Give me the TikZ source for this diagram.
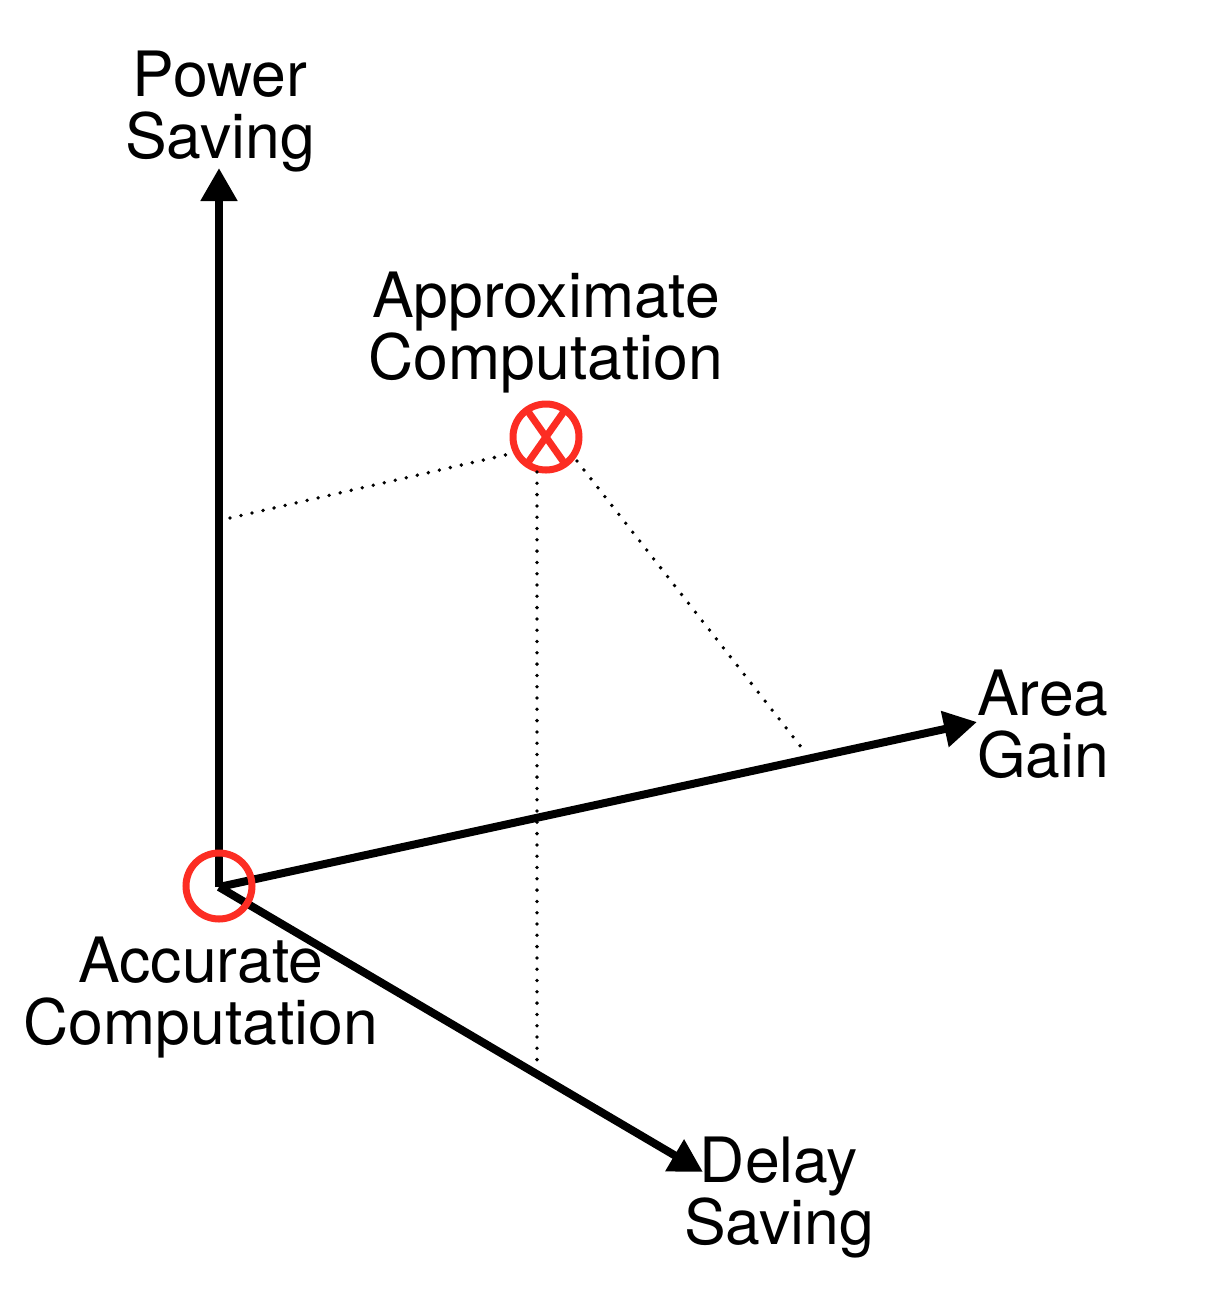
\documentclass[tikz,border=0pt]{standalone}
\usepackage{fontspec}
\setmainfont{TeX Gyre Heros}
\usetikzlibrary{arrows.meta,calc}
\definecolor{mkred}{RGB}{252,45,35}
\begin{document}
\begin{tikzpicture}[x=1pt,y=-1pt,
  axis/.style={line width=8pt,-{Triangle[length=33pt,width=35pt]}},
  guide/.style={line width=3.8pt,line cap=round,dash pattern=on 0pt off 11.3pt},
  marker/.style={circle,draw=mkred,line width=7pt,minimum size=66pt,inner sep=0pt},
  lbl/.style={font=\fontsize{62.5}{62}\selectfont,inner sep=0pt}]
\useasboundingbox (0,0) rectangle (1210,1294);
% axes
\coordinate (O) at (219,887);
\coordinate (Ptip) at (219,168);
\coordinate (Atip) at (977,722);
\coordinate (Dtip) at (703,1172);
\draw[axis] (O) -- (Ptip);
\draw[axis] (O) -- (Atip);
\draw[axis] (O) -- (Dtip);
% markers
\node[marker] (acc) at (219,886) {};
\node[marker] (apx) at (546,437) {};
\draw[mkred,line width=7pt] ($(apx)+(-19,-27)$) -- ($(apx)+(19,27)$);
\draw[mkred,line width=7pt] ($(apx)+(19,-27)$) -- ($(apx)+(-19,27)$);
% guides
\coordinate (g1a) at (230,518);
\coordinate (g1b) at (514,453);
\coordinate (g2a) at (537,472);
\coordinate (g2b) at (537,1070);
\coordinate (g3a) at (577,461);
\coordinate (g3b) at (805,752);
\draw[guide] (g1a) -- (g1b);
\draw[guide] (g2a) -- (g2b);
\draw[guide] (g3a) -- (g3b);
% labels
\node[lbl,align=center] (lp) at (220,112) {Power\\Saving};
\node[lbl,align=center] (la) at (546,333) {Approximate\\Computation};
\node[lbl,align=left,anchor=west] (lg) at (977,724) {Area\\Gain};
\node[lbl,align=center] (lc) at (201,998) {Accurate\\Computation};
\node[lbl,align=center] (ld) at (779,1198) {Delay\\Saving};
\end{tikzpicture}
\end{document}
